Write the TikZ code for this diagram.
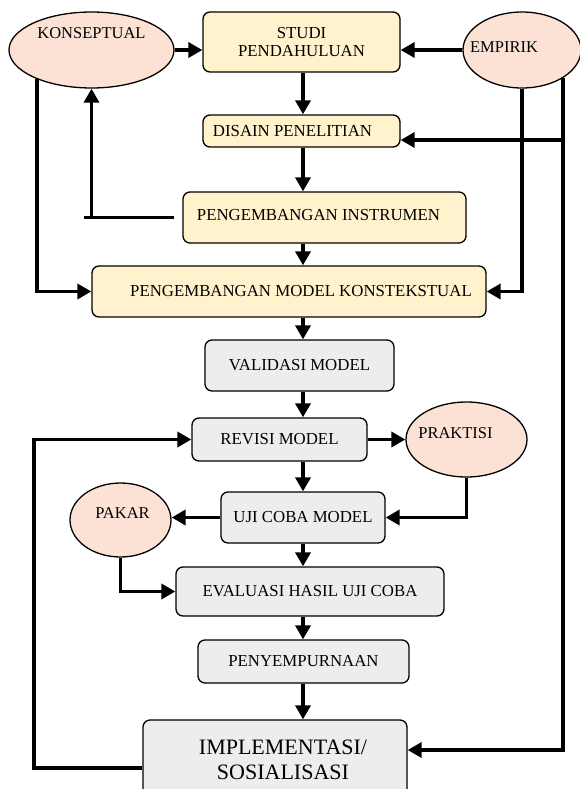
\documentclass[tikz,border=0pt]{standalone}
\usepackage{fontspec}
\setmainfont{Liberation Serif}
\usepackage{tikz}
\usetikzlibrary{shapes.geometric, arrows.meta, positioning, calc}
\definecolor{stageyellow}{RGB}{255,242,204}
\definecolor{stagegrey}{RGB}{237,237,237}
\definecolor{srcpeach}{RGB}{251,226,213}
\tikzset{
  stage/.style   = {rectangle, rounded corners=7pt, draw=black, line width=1.3pt,
                    fill=stageyellow, align=center, inner sep=2pt,
                    font=\fontsize{16.8}{18.5}\selectfont},
  review/.style  = {stage, fill=stagegrey},
  source/.style  = {ellipse, draw=black, line width=1.3pt, fill=srcpeach,
                    inner sep=0pt},
  srclab/.style  = {font=\fontsize{16.5}{18}\selectfont, inner sep=0pt},
  flow/.style    = {-{Triangle[length=14pt,width=15pt]}, line width=3.8pt},
  tie/.style     = {line width=3.8pt},
}

\begin{document}
\begin{tikzpicture}[x=1pt, y=-1pt]
\useasboundingbox (0,0) rectangle (579,789);

% ---------- Main column ----------
\node[stage, minimum width=197pt, minimum height=60pt] (studi) at (301.5,42) {STUDI\\PENDAHULUAN};
\node[stage, minimum width=197pt, minimum height=32pt] (disain) at (301.5,131) {DISAIN PENELITIAN\hspace{18pt}};
\node[stage, minimum width=283pt, minimum height=51pt] (instrumen) at (324.5,217.5) {\raisebox{5pt}{PENGEMBANGAN INSTRUMEN}\hspace{12pt}};
\node[stage, minimum width=394pt, minimum height=51pt] (konteks) at (289,291.5) {\hspace{24pt}PENGEMBANGAN MODEL KONSTEKSTUAL};
\node[review, minimum width=189pt, minimum height=51pt] (validasi) at (299.5,365.5) {VALIDASI MODEL};
\node[review, minimum width=175pt, minimum height=43pt] (revisi) at (279.5,439.5) {REVISI MODEL};
\node[review, minimum width=164pt, minimum height=51pt] (ujicoba) at (303,517.5) {UJI COBA MODEL};
\node[review, minimum width=268pt, minimum height=49pt] (evaluasi) at (310,591.5) {EVALUASI HASIL UJI COBA};
\node[review, minimum width=211pt, minimum height=43pt] (sempurna) at (303.5,661.5) {PENYEMPURNAAN};
\node[review, minimum width=264pt, minimum height=80pt, font=\fontsize{22}{25}\selectfont]
  (implementasi) at (275,760) {\hspace{16pt}IMPLEMENTASI/\\\hspace{16pt}SOSIALISASI};

% ---------- Sources ----------
\node[source, minimum width=165pt, minimum height=76pt,
      label={[srclab, yshift=17pt]center:KONSEPTUAL}] (konseptual) at (91.5,50) {};
\node[source, minimum width=118pt, minimum height=76pt,
      label={[srclab, xshift=-18pt, yshift=3pt]center:EMPIRIK}] (empirik) at (522,50) {};
\node[source, minimum width=121pt, minimum height=75pt,
      label={[srclab, xshift=-11pt, yshift=6pt]center:PRAKTISI}] (praktisi) at (466.5,439.5) {};
\node[source, minimum width=101pt, minimum height=74pt,
      label={[srclab, xshift=2pt, yshift=7pt]center:PAKAR}] (pakar) at (120.5,520) {};

\coordinate (spine) at (303,0);
\coordinate (fork) at ($(empirik.-34 |- disain.east)+(0,9)$);

% ---------- Edges: spine ----------
\draw[flow] (studi.south -| spine) -- (disain.north -| spine);
\draw[flow] (disain.south -| spine) -- (instrumen.north -| spine);
\draw[flow] (instrumen.south -| spine) -- (konteks.north -| spine);
\draw[flow] (konteks.south -| spine) -- (validasi.north -| spine);
\draw[flow] (validasi.south -| spine) -- (revisi.north -| spine);
\draw[flow] (revisi.south -| spine) -- (ujicoba.north -| spine);
\draw[flow] (ujicoba.south -| spine) -- (evaluasi.north -| spine);
\draw[flow] (evaluasi.south -| spine) -- (sempurna.north -| spine);
\draw[flow] (sempurna.south -| spine) -- (implementasi.north -| spine);

% ---------- Edges: sources ----------
\draw[flow] (konseptual.east) -- (konseptual.east -| studi.west);
\draw[flow] (empirik.west) -- (empirik.west -| studi.east);
\draw[flow] (konseptual.208) |- (konteks.west);
\draw[flow] (empirik.south) |- (konteks.east);
\draw[flow] (empirik.-34) |- ($(implementasi.east)+(0,-10)$);
\draw[flow] (fork) -- (fork -| disain.east);
\draw[flow] ($(instrumen.west)+(-8,0)$) -| (konseptual.south);
\draw[tie] (konseptual.south |- instrumen.west) -- ++(-8,0);

% ---------- Edges: trial loop ----------
\draw[flow] (revisi.east) -- (praktisi.west);
\draw[flow] (praktisi.south) |- (ujicoba.east);
\draw[flow] (ujicoba.west) -- (ujicoba.west -| pakar.east);
\draw[flow] (pakar.south) |- (evaluasi.west);
\draw[flow] ($(implementasi.west)+(0,8)$) -- ++(-108,0) |- (revisi.west);

\end{tikzpicture}
\end{document}
